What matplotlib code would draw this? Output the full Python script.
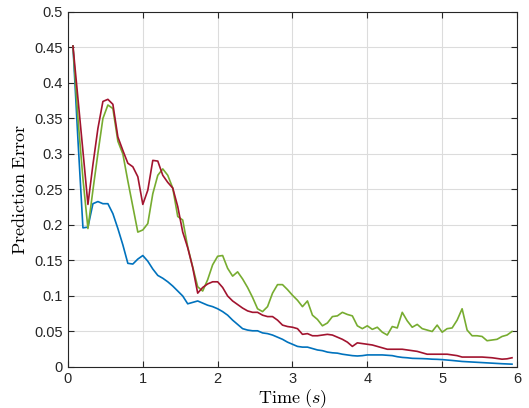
import numpy as np
import matplotlib
matplotlib.use('Agg')
import matplotlib.pyplot as plt

plt.rcParams['mathtext.fontset'] = 'cm'
plt.rcParams['font.family'] = ['Liberation Sans', 'DejaVu Sans']

# sample times: one sample every 1/15 s
time = np.arange(1, 90) / 15.0

err_blue = [
    0.452, 0.32, 0.196, 0.197, 0.230, 0.233, 0.230, 0.230, 0.216, 0.195,
    0.172, 0.146, 0.145, 0.152, 0.157, 0.149, 0.138, 0.129, 0.125, 0.120,
    0.114, 0.107, 0.100, 0.089, 0.091, 0.093, 0.090, 0.087, 0.085, 0.082,
    0.078, 0.073, 0.066, 0.060, 0.054, 0.052, 0.051, 0.051, 0.048, 0.047,
    0.045, 0.042, 0.039, 0.035, 0.032, 0.029, 0.028, 0.028, 0.026, 0.024,
    0.023, 0.021, 0.020, 0.0195, 0.018, 0.017, 0.016, 0.0155, 0.016, 0.017,
    0.017, 0.017, 0.017, 0.0165, 0.016, 0.0145, 0.0135, 0.013, 0.0122, 0.012,
    0.0118, 0.0115, 0.011, 0.0108, 0.0104, 0.0098, 0.0092, 0.0085, 0.0078, 0.0074,
    0.007, 0.0066, 0.0062, 0.0058, 0.0054, 0.005, 0.0046, 0.0043, 0.004,
]

err_red = [
    0.452, 0.378, 0.304, 0.229, 0.285, 0.336, 0.374, 0.377, 0.370, 0.324,
    0.305, 0.287, 0.282, 0.268, 0.229, 0.249, 0.291, 0.290, 0.270, 0.260,
    0.252, 0.226, 0.190, 0.168, 0.140, 0.104, 0.112, 0.117, 0.120, 0.120,
    0.112, 0.100, 0.093, 0.088, 0.083, 0.079, 0.077, 0.077, 0.073, 0.071,
    0.071, 0.066, 0.059, 0.057, 0.056, 0.054, 0.046, 0.047, 0.044, 0.044,
    0.045, 0.046, 0.045, 0.042, 0.039, 0.035, 0.029, 0.034, 0.033, 0.032,
    0.031, 0.029, 0.027, 0.025, 0.025, 0.025, 0.025, 0.024, 0.023, 0.022,
    0.020, 0.018, 0.018, 0.018, 0.018, 0.018, 0.017, 0.016, 0.014, 0.014,
    0.014, 0.014, 0.014, 0.0135, 0.013, 0.012, 0.011, 0.0115, 0.013,
]

err_green = [
    0.452, 0.35, 0.265, 0.195, 0.249, 0.301, 0.350, 0.369, 0.364, 0.318,
    0.300, 0.262, 0.226, 0.190, 0.193, 0.202, 0.244, 0.270, 0.279, 0.270,
    0.252, 0.212, 0.207, 0.169, 0.141, 0.113, 0.107, 0.123, 0.144, 0.156,
    0.157, 0.139, 0.128, 0.134, 0.124, 0.112, 0.098, 0.082, 0.078, 0.085,
    0.104, 0.116, 0.116, 0.109, 0.101, 0.094, 0.085, 0.093, 0.073, 0.067,
    0.058, 0.062, 0.071, 0.072, 0.077, 0.074, 0.072, 0.058, 0.054, 0.058,
    0.053, 0.056, 0.049, 0.045, 0.057, 0.055, 0.077, 0.065, 0.056, 0.060,
    0.054, 0.052, 0.050, 0.059, 0.049, 0.054, 0.055, 0.066, 0.082, 0.052,
    0.044, 0.044, 0.043, 0.037, 0.038, 0.039, 0.043, 0.045, 0.050,
]

x_ticks = [0, 1, 2, 3, 4, 5, 6]
y_ticks = [0, 0.05, 0.1, 0.15, 0.2, 0.25, 0.3, 0.35, 0.4, 0.45, 0.5]
y_tick_labels = ['0', '0.05', '0.1', '0.15', '0.2', '0.25', '0.3', '0.35', '0.4', '0.45', '0.5']

fig = plt.figure(figsize=(5.29, 4.08), dpi=100)
ax = fig.add_axes([0.1285, 0.1005, 0.8488, 0.8701])

ax.plot(time, err_blue, color='#0072BD', lw=1.2)
ax.plot(time, err_green, color='#77AC30', lw=1.2)
ax.plot(time, err_red, color='#A2142F', lw=1.2)

ax.set_xlim(0, 6)
ax.set_ylim(0, 0.5)
ax.set_xticks(x_ticks)
ax.set_yticks(y_ticks)
ax.set_yticklabels(y_tick_labels)
ax.grid(True, color='#dcdcdc', lw=0.8)
ax.set_axisbelow(True)
ax.tick_params(direction='in', top=True, right=True, labelsize=10.5,
               colors='#262626', length=4, width=0.8)
for s in ax.spines.values():
    s.set_color('#262626')
    s.set_linewidth(0.8)

ax.set_xlabel(r'$\mathrm{Time}\ (s)$', fontsize=13, labelpad=1)
ax.set_ylabel(r'$\mathrm{Prediction\ Error}$', fontsize=13, labelpad=4)

fig.savefig('out.png', dpi=100)
